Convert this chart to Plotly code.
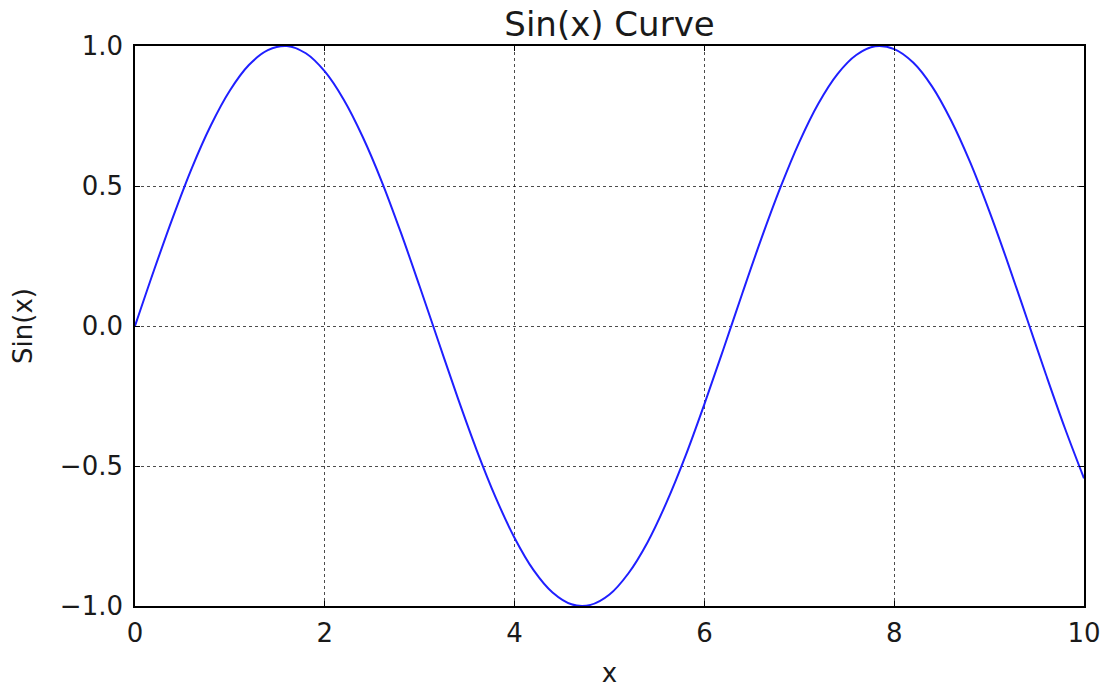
import plotly.graph_objects as go

# Sampled curve values
x_vals = [0.0, 0.2, 0.4, 0.6, 0.8, 1.0, 1.2, 1.4, 1.6, 1.8,
          2.0, 2.2, 2.4, 2.6, 2.8, 3.0, 3.2, 3.4, 3.6, 3.8,
          4.0, 4.2, 4.4, 4.6, 4.8, 5.0, 5.2, 5.4, 5.6, 5.8,
          6.0, 6.2, 6.4, 6.6, 6.8, 7.0, 7.2, 7.4, 7.6, 7.8,
          8.0, 8.2, 8.4, 8.6, 8.8, 9.0, 9.2, 9.4, 9.6, 9.8, 10.0]
y_vals = [0.000, 0.199, 0.389, 0.565, 0.717, 0.841, 0.932, 0.985, 1.000, 0.974,
          0.909, 0.808, 0.675, 0.516, 0.335, 0.141, -0.058, -0.256, -0.443, -0.612,
          -0.757, -0.872, -0.952, -0.994, -0.996, -0.959, -0.883, -0.773, -0.631, -0.465,
          -0.279, -0.083, 0.117, 0.312, 0.494, 0.657, 0.794, 0.899, 0.968, 0.999,
          0.989, 0.941, 0.855, 0.734, 0.585, 0.412, 0.223, 0.025, -0.174, -0.366, -0.544]

x_ticks = [0, 2, 4, 6, 8, 10]
x_tick_labels = ["0", "2", "4", "6", "8", "10"]
y_ticks = [-1.0, -0.5, 0.0, 0.5, 1.0]
y_tick_labels = ["\u22121.0", "\u22120.5", "0.0", "0.5", "1.0"]

FONT = "DejaVu Sans"
TEXT = "#1a1a1a"

fig = go.Figure(
    go.Scatter(x=x_vals, y=y_vals, mode="lines",
               line=dict(color="#1f1fff", width=2, shape="spline", smoothing=1.0))
)

axis_common = dict(
    showline=True, linecolor="black", linewidth=1.6, mirror="ticks",
    ticks="inside", ticklen=5, tickcolor="black", tickwidth=1,
    showgrid=True, gridcolor="rgba(0,0,0,0.7)", griddash="dot", gridwidth=1,
    zeroline=False, automargin=False,
    tickfont=dict(family=FONT, size=26, color=TEXT),
    title_font=dict(family=FONT, size=26, color=TEXT),
)

fig.update_xaxes(range=[0, 10], tickvals=x_ticks, ticktext=x_tick_labels,
                 ticklabelstandoff=3,
                 title_text="x", title_standoff=20, **axis_common)
fig.update_yaxes(range=[-1.0, 1.0], tickvals=y_ticks, ticktext=y_tick_labels,
                 ticklabelstandoff=5,
                 title_text="Sin(x)", title_standoff=20, **axis_common)

fig.update_layout(
    width=1104, height=688,
    margin=dict(l=135, r=20, t=46, b=82),
    paper_bgcolor="white", plot_bgcolor="white",
    showlegend=False,
    title=dict(text="Sin(x) Curve", x=0.5, xanchor="center", y=0.965, yanchor="middle",
               xref="paper",
               font=dict(family=FONT, size=34, color=TEXT)),
)

fig.write_html("out.html")
